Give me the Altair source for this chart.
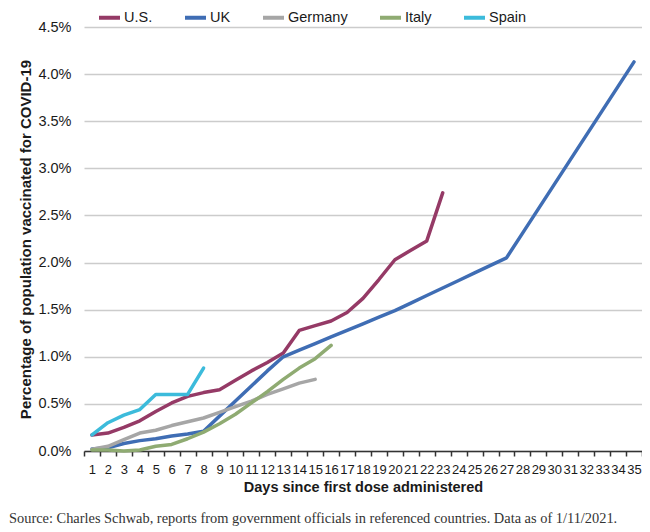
import altair as alt
import pandas as pd

days = list(range(1, 36))
series = ["U.S.", "UK", "Germany", "Italy", "Spain"]
colors = ["#953a66", "#3f6db4", "#a6a6a6", "#8fab72", "#3cbbdb"]

us = [0.17, 0.19, 0.25, 0.32, 0.42, 0.51, 0.58, 0.62, 0.65, 0.75, 0.85, 0.94,
      1.04, 1.28, 1.33, 1.38, 1.47, 1.62, 1.82, 2.03, 2.13, 2.23, 2.74]
uk = [0.02, 0.035, 0.08, 0.11, 0.13, 0.16, 0.18, 0.21, 0.37, 0.53, 0.69, 0.85,
      1.00, 1.07, 1.14, 1.21, 1.28, 1.35, 1.42, 1.49, 1.57, 1.65, 1.73, 1.81,
      1.89, 1.97, 2.05, 2.31, 2.57, 2.83, 3.09, 3.35, 3.61, 3.87, 4.13]
germany = [0.02, 0.05, 0.12, 0.19, 0.22, 0.27, 0.31, 0.35, 0.41, 0.47, 0.53,
           0.60, 0.66, 0.72, 0.76]
italy = [0.01, 0.01, 0.00, 0.01, 0.05, 0.07, 0.13, 0.20, 0.29, 0.39, 0.51, 0.63,
         0.76, 0.88, 0.98, 1.12]
spain = [0.17, 0.30, 0.38, 0.44, 0.60, 0.60, 0.60, 0.88]

y_ticks = [0, 0.005, 0.01, 0.015, 0.02, 0.025, 0.03, 0.035, 0.04, 0.045]

rows = []
for name, vals in zip(series, [us, uk, germany, italy, spain]):
    for d, v in zip(days, vals):
        rows.append({"country": name, "day": d, "pct": v / 100})
df = pd.DataFrame(rows)

sans = "Liberation Sans"
ink = "#1a1a1a"

chart = alt.Chart(df).mark_line(
    strokeWidth=3.5, strokeCap="round", strokeJoin="round"
).encode(
    x=alt.X(
        "day:O",
        scale=alt.Scale(type="band", domain=days, paddingInner=0, paddingOuter=0),
        axis=alt.Axis(
            title="Days since first dose administered",
            labelAngle=0, tickBand="extent", tickSize=5, tickWidth=1.5,
            tickColor="#333333", domainColor="#333333", domainWidth=1.5,
            labelFont=sans, labelFontSize=13, labelColor=ink, labelPadding=7,
            titleFont=sans, titleFontSize=14.5, titleFontWeight="bold",
            titleColor=ink, titlePadding=4, grid=False,
        ),
    ),
    y=alt.Y(
        "pct:Q",
        scale=alt.Scale(domain=[0, 0.045], nice=False),
        axis=alt.Axis(
            title="Percentage of population vaccinated for COVID-19",
            values=y_ticks, format=".1%", ticks=False, domain=False,
            grid=True, gridColor="#cccccc", gridWidth=1.5,
            labelFont=sans, labelFontSize=14.5, labelColor=ink, labelPadding=13,
            titleFont=sans, titleFontSize=15, titleFontWeight="bold",
            titleColor=ink, titlePadding=4,
        ),
    ),
    color=alt.Color(
        "country:N",
        scale=alt.Scale(domain=series, range=colors),
        legend=alt.Legend(
            title=None, orient="none", legendX=13, legendY=-22,
            direction="horizontal", symbolType="stroke", symbolStrokeWidth=4,
            symbolSize=441, labelFont=sans, labelFontSize=14.5,
            labelColor=ink, columnPadding=24, labelOffset=2, padding=0,
        ),
    ),
).properties(
    width=558,
    height=424,
    padding={"left": 76, "top": 19, "right": 0, "bottom": 75},
    autosize=alt.AutoSizeParams(type="none"),
    title=alt.TitleParams(
        text="Source: Charles Schwab, reports from government officials in referenced countries. Data as of 1/11/2021.",
        orient="bottom", anchor="start", frame="group", dx=-75, offset=18,
        font="Liberation Serif", fontSize=14.4, fontWeight="normal", color="#333333",
    ),
).configure_view(stroke=None)

chart.save("out.html", embed_options={"renderer": "svg", "actions": False})
